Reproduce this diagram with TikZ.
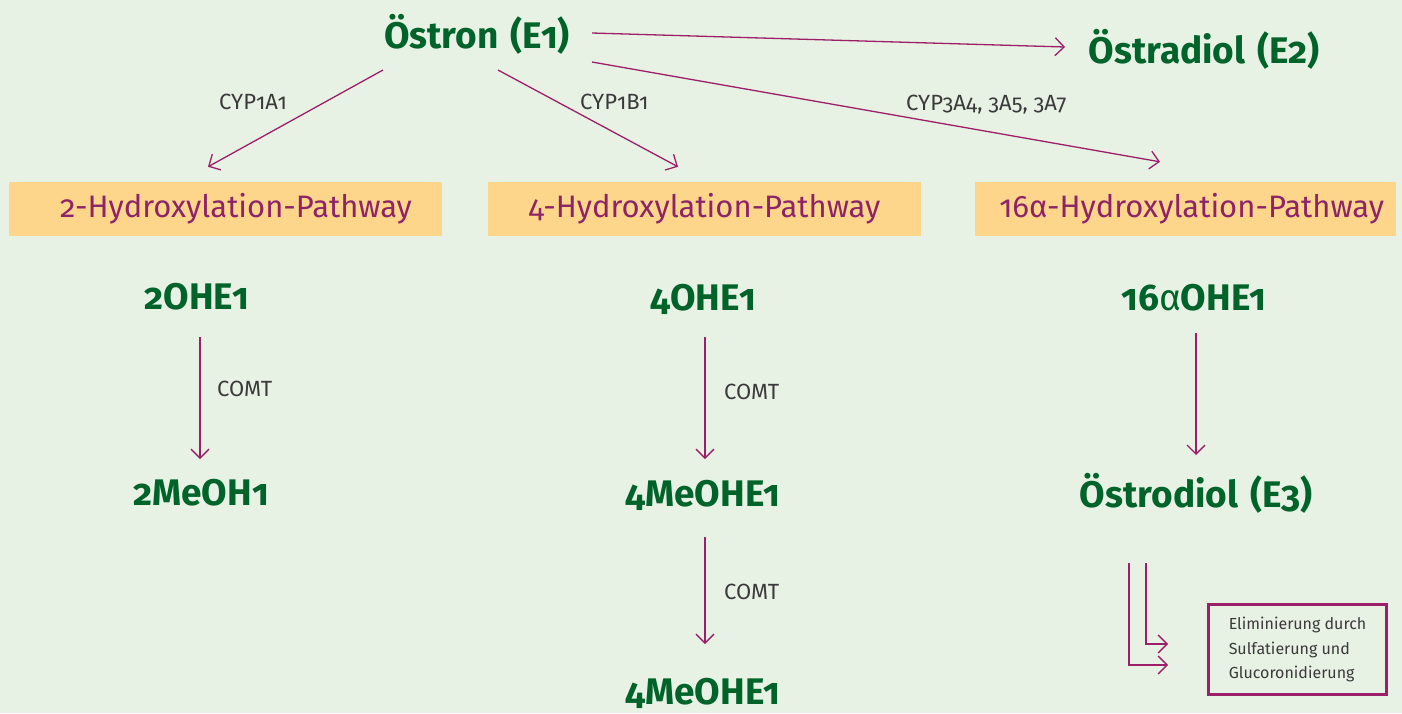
\documentclass[tikz,border=0pt]{standalone}
\usepackage{fontspec}
\setmainfont{Fira Sans}[Numbers=OldStyle]
\usepackage{xcolor}
\definecolor{background}{HTML}{E8F2E4}
\definecolor{estgreen}{HTML}{00632A}
\definecolor{flowred}{HTML}{9C1F6A}
\definecolor{pathtext}{HTML}{8E2468}
\definecolor{pathfill}{HTML}{FDD68B}
\definecolor{enzgray}{HTML}{3A3A3A}
\usepackage{tikz}
\usetikzlibrary{positioning}
\usetikzlibrary{arrows.meta}
\usetikzlibrary{calc}

\tikzset{
  estrogen/.style={anchor=base, inner sep=0pt, text=estgreen, font=\fontsize{37}{40}\selectfont\bfseries},
  enzyme/.style={anchor=base west, inner sep=0pt, text=enzgray, font=\fontsize{22}{26}\selectfont},
  pathbox/.style={fill=pathfill, text=pathtext, minimum height=54pt, inner ysep=0pt, align=right, font=\fontsize{31}{34}\selectfont},
  flow/.style={flowred, line width=1.3pt, -{Straight Barb[length=9pt,width=18pt]}}
}

\begin{document}
\begin{tikzpicture}[x=1pt,y=-1pt]
\fill[background] (0,0) rectangle (1402,713);
\useasboundingbox (0,0) rectangle (1402,713);

% top row
\node (oestron) at (477,48) [estrogen] {Östron\hspace{3pt} (E1)};
\node (oestradiol) at (1204,63) [estrogen] {Östradiol\hspace{3pt} (E2)};
\draw[flow] ([shift={(115pt,15pt)}]oestron.base) -- ([shift={(-139pt,16pt)}]oestradiol.base);

% the three pathways
\node (hyd2) at (225.5,209) [pathbox, text width=373pt, inner xsep=30pt] {2-Hydroxylation-Pathway};
\node (hyd4) at (704.5,209) [pathbox, text width=393pt, inner xsep=20pt, align=center] {4-Hydroxylation-Pathway};
\node (hyd16) at (1185.5,209) [pathbox, text width=397pt, inner xsep=12pt] {16α-Hydroxylation-Pathway};

\draw[flow] ([shift={(-94pt,-22pt)}]oestron.base) -- ([shift={(-17.5pt,15pt)}]hyd2.north);
\draw[flow] ([shift={(21pt,-22pt)}]oestron.base) -- ([shift={(-26.5pt,15pt)}]hyd4.north);
\draw[flow] ([shift={(115pt,-14pt)}]oestron.base) -- ([shift={(-25.5pt,20pt)}]hyd16.north);
\node (cyp1a1) at (219,109) [enzyme] {CYP1A1};
\node (cyp1b1) at (580,109) [enzyme] {CYP1B1};
\node (cyp3a4) at (906,110) [enzyme] {CYP3A4, 3A5, 3A7};

% 2-hydroxylation
\node (ohe2) at (197,309) [estrogen] {2OHE1};
\node (meoh2) at (201,505) [estrogen] {2MeOH1};
\draw[flow] ([shift={(3pt,-28pt)}]ohe2.base) -- ([shift={(-1pt,46pt)}]meoh2.base);
\node (comt2) at (217,396) [enzyme] {COMT};

% 4-hydroxylation
\node (ohe4) at (703,310) [estrogen] {4OHE1};
\node (meohe4) at (703,506) [estrogen] {4MeOHE1};
\node (meohe4b) at (703,704) [estrogen] {4MeOHE1};
\draw[flow] ([shift={(2pt,-27pt)}]ohe4.base) -- ([shift={(2pt,47pt)}]meohe4.base);
\draw[flow] ([shift={(2pt,-31pt)}]meohe4.base) -- ([shift={(2pt,60pt)}]meohe4b.base);
\node (comt4) at (724,399) [enzyme] {COMT};
\node (comt4b) at (724,599) [enzyme] {COMT};

% 16alpha-hydroxylation
\node (ohe16) at (1194,310) [estrogen] {16{\mdseries α}OHE1};
\node (oestriol) at (1196,507) [estrogen] {Östrodiol\hspace{3pt} (E3)};
\draw[flow] ([shift={(2pt,-23pt)}]ohe16.base) -- ([shift={(0pt,52pt)}]oestriol.base);

\node (elim) at (1297.5,649.5) [draw=flowred, line width=3pt, minimum width=178pt, minimum height=90pt, align=left, text=enzgray, font=\fontsize{16}{24.5}\selectfont] {Eliminierung durch\\Sulfatierung und\\Glucoronidierung};
\draw[flow] ([shift={(-67pt,-56pt)}]oestriol.base) |- ([shift={(-39pt,-15.5pt)}]elim.west);
\draw[flow] ([shift={(-50pt,-56pt)}]oestriol.base) |- ([shift={(-39pt,5.5pt)}]elim.west);
\end{tikzpicture}
\end{document}
